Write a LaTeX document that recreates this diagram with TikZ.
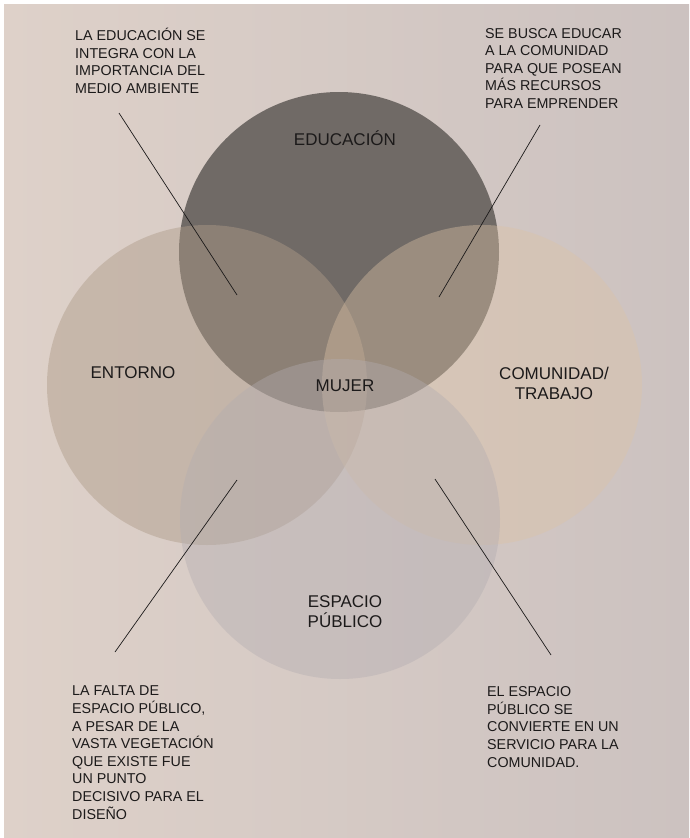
\documentclass[tikz,border=0pt]{standalone}
\usepackage{fontspec}
\setmainfont{Liberation Sans}

\definecolor{bgleft}{RGB}{222,209,201}
\definecolor{bgright}{RGB}{204,194,192}
\definecolor{educacion}{RGB}{112,106,102}
\definecolor{entorno}{RGB}{174,155,136}
\definecolor{comunidad}{RGB}{220,195,166}
\definecolor{espacio}{RGB}{178,172,176}
\definecolor{tinta}{RGB}{28,26,26}

\begin{document}
\begin{tikzpicture}[x=1pt,y=-1pt,
    nota/.style={anchor=base west,align=left,inner sep=0pt,text=tinta,
                 font=\fontsize{14.3}{17.6}\selectfont},
    area/.style={anchor=base,align=center,inner sep=0pt,text=tinta,
                 font=\fontsize{17}{19.5}\selectfont},
    guia/.style={line width=0.7pt,draw=tinta}]
            \useasboundingbox (0,0) rectangle (689,838);
            \fill[white] (0,0) rectangle (689,838);
            \shade[left color=bgleft,right color=bgright] (4,4) rectangle (689,838);

            \fill[educacion] (339,252) circle (160pt);
            \fill[entorno,opacity=0.46] (207,385) circle (160pt);
            \fill[comunidad,opacity=0.4] (482,385) circle (160pt);
            \fill[espacio,opacity=0.4] (340,519) circle (160pt);

            % base = baseline of the last line
            \node[area] (educ) at (345,145) {EDUCACIÓN};
            \node[area] (ento) at (133,378) {ENTORNO};
            \node[area] (muje) at (345,391) {MUJER};
            \node[area] (comu) at (554,399) {COMUNIDAD/\\TRABAJO};
            \node[area] (espa) at (345,627) {ESPACIO\\PÚBLICO};

            \node[nota] (notaEdu) at (75,93.5) {LA EDUCACIÓN SE\\INTEGRA CON LA\\IMPORTANCIA DEL\\MEDIO AMBIENTE};
            \node[nota] (notaComu) at (485,108.5) {SE BUSCA EDUCAR\\A LA COMUNIDAD\\PARA QUE POSEAN\\MÁS RECURSOS\\PARA EMPRENDER};
            \node[nota] (notaFalta) at (72,819) {LA FALTA DE\\ESPACIO PÚBLICO,\\A PESAR DE LA\\VASTA VEGETACIÓN\\QUE EXISTE FUE\\UN PUNTO\\DECISIVO PARA EL\\DISEÑO};
            \node[nota] (notaServ) at (487,767) {EL ESPACIO\\PÚBLICO SE\\CONVIERTE EN UN\\SERVICIO PARA LA\\COMUNIDAD.};

            \coordinate (eduA) at (119,113);
            \coordinate (eduB) at (237,295);
            \coordinate (comuA) at (540,125);
            \coordinate (comuB) at (439,297);
            \coordinate (faltaA) at (237,480);
            \coordinate (faltaB) at (115,652);
            \coordinate (servA) at (435,479);
            \coordinate (servB) at (551,655);
            \draw[guia] (eduA) -- (eduB);
            \draw[guia] (comuA) -- (comuB);
            \draw[guia] (faltaA) -- (faltaB);
            \draw[guia] (servA) -- (servB);
        \end{tikzpicture}
\end{document}
